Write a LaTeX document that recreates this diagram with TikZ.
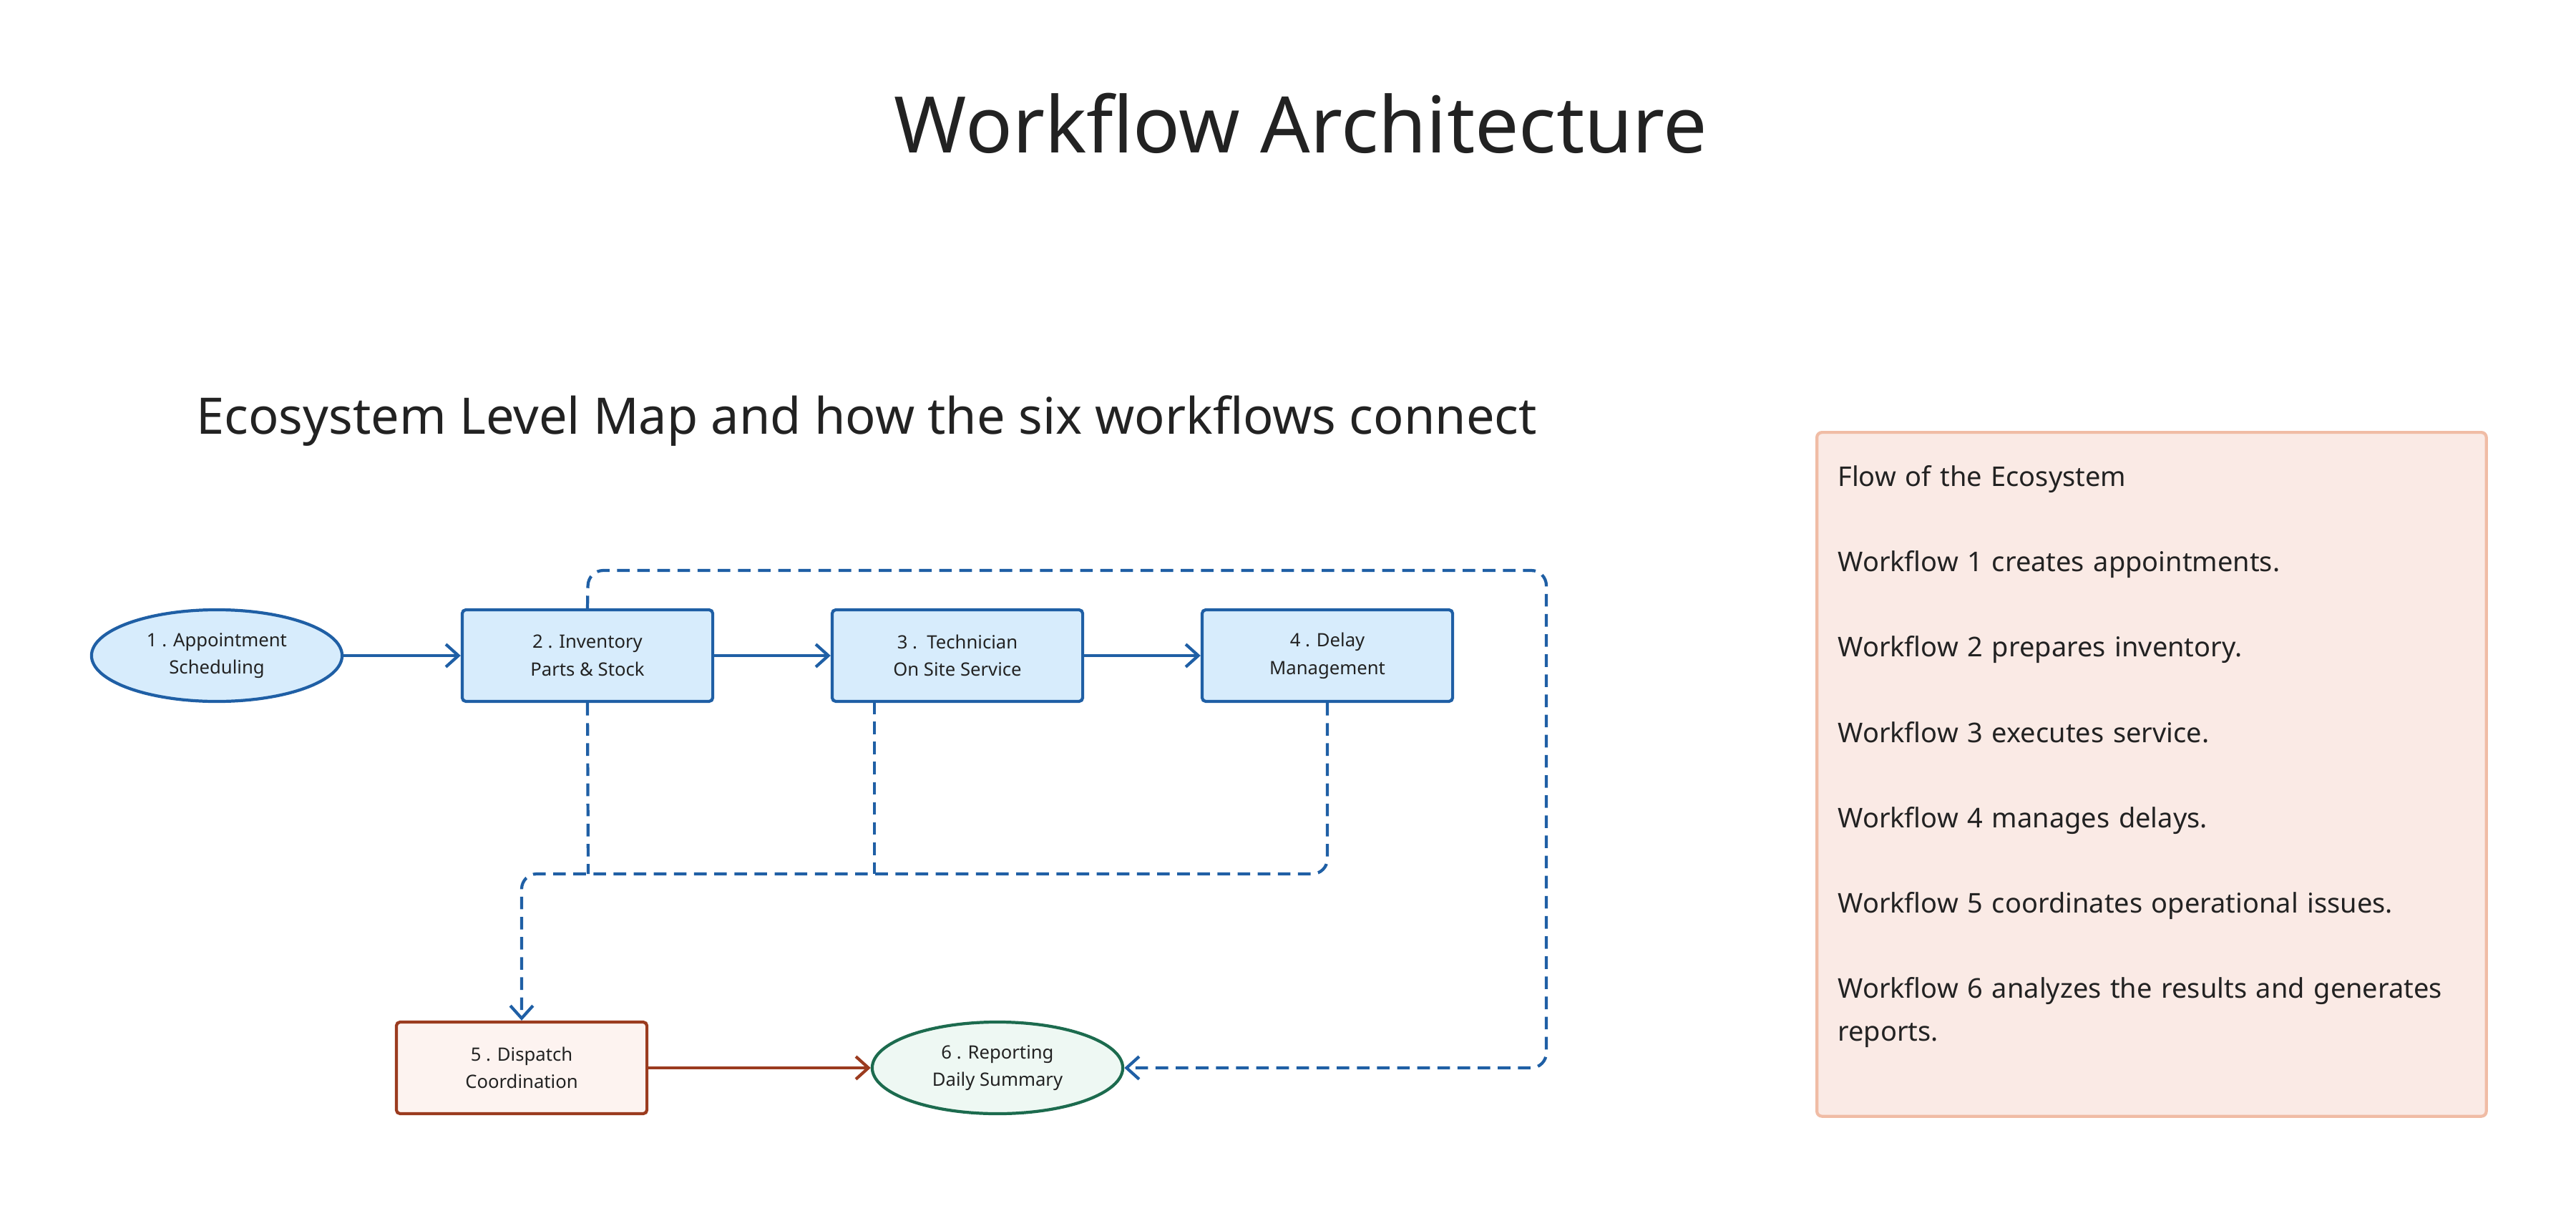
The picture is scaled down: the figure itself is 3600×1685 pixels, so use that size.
\documentclass[tikz,border=0pt]{standalone}
\usepackage{fontspec}
\setmainfont{Noto Sans}
\usetikzlibrary{shapes,shapes.misc,arrows.meta}
\definecolor{wfblue}{HTML}{1F5FA5}
\definecolor{wfbluefill}{HTML}{D7ECFC}
\definecolor{wfred}{HTML}{9B3B1F}
\definecolor{wfredfill}{HTML}{FDF3F0}
\definecolor{wfgreen}{HTML}{1C6B4E}
\definecolor{wfgreenfill}{HTML}{EEF8F3}
\definecolor{panelfill}{HTML}{FAEAE5}
\definecolor{panelline}{HTML}{F0BCA5}
\definecolor{ink}{HTML}{222222}
\tikzset{
  wfbox/.style={draw=wfblue, fill=wfbluefill, line width=1.2pt, rounded corners=1.5pt,
    minimum width=3.5cm, minimum height=1.28cm, align=center, font=\fontsize{7.3}{11}\selectfont, text=ink},
  wfoval/.style={wfbox, ellipse, rounded corners=0pt},
  flow/.style={-{Straight Barb[length=5pt,width=9pt]}, line width=1.2pt, draw=wfblue},
  loop/.style={flow, dashed, dash pattern=on 5pt off 3pt, rounded corners=6pt},
}
\begin{document}
\begin{tikzpicture}[x=0.01cm, y=-0.01cm]
   \useasboundingbox (0,0) rectangle (3600,1685);
   \node[text=ink, font=\fontsize{31}{36}\selectfont] (title) at (1818,172) {Workflow Architecture};
   \node[text=ink, font=\fontsize{20}{24}\selectfont, anchor=west] (subtitle) at (262,588) {Ecosystem Level Map and how the six workflows connect};
   % workflow nodes
   \node[wfoval] (wa) at (303,916) {1 . Appointment\\Scheduling};
   \node[wfbox] (wb) at (821,916) {2 . Inventory\\Parts \& Stock};
   \node[wfbox] (wc) at (1338,916) {3 .\ \ Technician\\On Site Service};
   \node[wfbox] (wd) at (1855,916) {4 . Delay\\Management};
   \node[wfbox, draw=wfred, fill=wfredfill] (we) at (729,1492) {5 . Dispatch\\Coordination};
   \node[wfoval, draw=wfgreen, fill=wfgreenfill] (wf) at (1394,1492) {6 . Reporting\\Daily Summary};
   \draw[flow] (wa) -- (wb);
   \draw[flow] (wb) -- (wc);
   \draw[flow] (wc) -- (wd);
   \draw[flow, draw=wfred] (we) -- (wf);
   % dashed connections
   \coordinate (cb) at (822,1221);
   \coordinate (cc) at (1222,1221);
   \coordinate (ccTop) at (1222,980);
   \draw[loop, -] (wb.south) -- (cb);
   \draw[loop, -] (ccTop) -- (cc);
   \draw[loop] (wd.south) -- (1855,1221) -- (729,1221) -- (we.north);
   \draw[loop] (wb.north) -- (822,797) -- (2161,797) -- (2161,1492) -- (wf.east);
   % side panel
   \node[draw=panelline, fill=panelfill, line width=1.2pt, rounded corners=2pt,
     minimum width=9.35cm, minimum height=9.55cm, anchor=north west] (panel) at (2537,602) {};
   \node[anchor=north west, text=ink, align=left, text width=8.9cm,
     font=\fontsize{10.8}{17}\selectfont] (paneltext) at (2556,638)
     {\textbf{Flow of the Ecosystem}\\[16.9pt]
      Workflow 1 creates appointments.\\[16.9pt]
      Workflow 2 prepares inventory.\\[16.9pt]
      Workflow 3 executes service.\\[16.9pt]
      Workflow 4 manages delays.\\[16.9pt]
      Workflow 5 coordinates operational issues.\\[16.9pt]
      Workflow 6 analyzes the results and generates\\reports.};
\end{tikzpicture}
\end{document}
